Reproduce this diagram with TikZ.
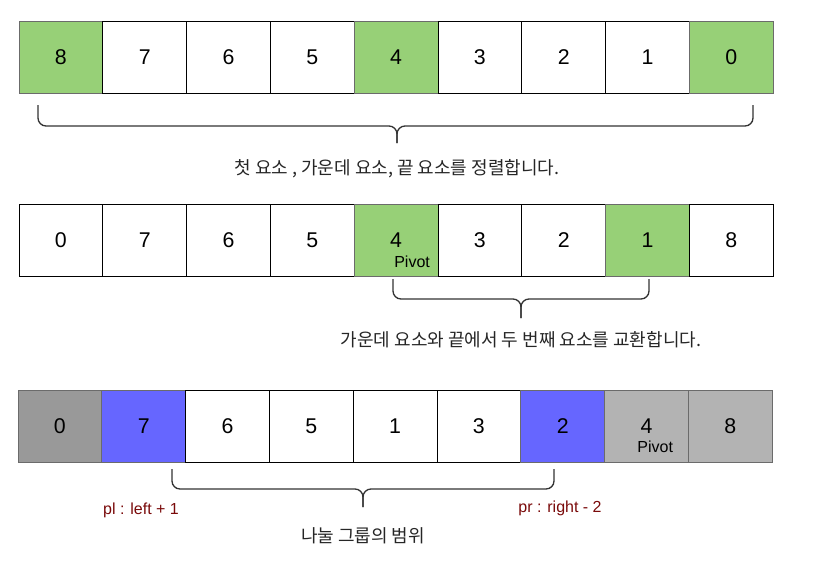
\documentclass[tikz,border=0pt]{standalone}
\usepackage{fontspec}
\setmainfont{Liberation Sans}
\newfontfamily\krfont{Noto Sans CJK KR}
\usepackage{tikz}
\usetikzlibrary{positioning}

\definecolor{cellgreen}{HTML}{97D077}
\definecolor{cellblue}{HTML}{6666FF}
\definecolor{celldark}{HTML}{999999}
\definecolor{celllight}{HTML}{B3B3B3}
\definecolor{cellline}{HTML}{6B6B6B}
\definecolor{bracegray}{HTML}{333333}
\definecolor{idxred}{HTML}{7A0A0A}

\tikzset{
  cell/.style={draw=black, line width=0.75pt, minimum width=62.85pt, minimum height=54pt,
    inner sep=0pt, font=\fontsize{16}{19}\selectfont},
  memo/.style={inner sep=0pt, font=\krfont\fontsize{13.5}{16}\selectfont, text=black!85},
  idx/.style={inner sep=0pt, font=\fontsize{12}{14}\selectfont, text=idxred},
  pivtag/.style={inner sep=0pt, font=\fontsize{12}{14}\selectfont},
  brace/.style={draw=bracegray, line width=1pt, rounded corners=6pt}
}

\begin{document}
\begin{tikzpicture}[x=0.75pt,y=-0.75pt]
  \useasboundingbox (0,0) rectangle (817,572); % 画像全体の大きさ
  \fill[white] (0,0) rectangle (817,572); % 白い背景
  \foreach \v/\c/\e [count=\i] in {8/cellgreen/cellline,7/white/black,6/white/black,5/white/black,4/cellgreen/cellline,3/white/black,2/white/black,1/white/black,0/cellgreen/cellline}
    \node[cell,fill=\c,draw=\e] (r1c\i) at ({19+83.8*\i-41.9},57) {\v}; % 1段目の配列
  \draw[brace] (38,105) |- (397,126) -- (397,143); % 1段目の括弧（左半分）
  \draw[brace] (753,105) |- (397,126) -- (397,143); % 1段目の括弧（右半分）
  \node[memo] (t1) at (397,169) {첫 요소 , 가운데 요소, 끝 요소를 정렬합니다.}; % 1段目の説明

  \foreach \v/\c/\e [count=\i] in {0/white/black,7/white/black,6/white/black,5/white/black,4/cellgreen/cellline,3/white/black,2/white/black,1/cellgreen/cellline,8/white/black}
    \node[cell,fill=\c,draw=\e] (r2c\i) at ({19+83.8*\i-41.9},240) {\v}; % 2段目の配列
  \node[pivtag] (pv2) at ([xshift=12pt,yshift=-16.5pt]r2c5.center) {Pivot}; % 2段目のピボット
  \draw[brace] (393,279) |- (521,299) -- (521,318); % 2段目の括弧（左半分）
  \draw[brace] (649,279) |- (521,299) -- (521,318); % 2段目の括弧（右半分）
  \node[memo] (t2) at (521,340) {가운데 요소와 끝에서 두 번째 요소를 교환합니다.}; % 2段目の説明

  \foreach \v/\c/\e [count=\i] in {0/celldark/cellline,7/cellblue/cellline,6/white/black,5/white/black,1/white/black,3/white/black,2/cellblue/cellline,4/celllight/cellline,8/celllight/cellline}
    \node[cell,fill=\c,draw=\e] (r3c\i) at ({18+83.8*\i-41.9},426) {\v}; % 3段目の配列
  \node[pivtag] (pv3) at ([xshift=6.5pt,yshift=-15.5pt]r3c8.center) {Pivot}; % 3段目のピボット
  \draw[brace] (172,469) |- (363,489) -- (363,507); % 3段目の括弧（左半分）
  \draw[brace] (554,469) |- (363,489) -- (363,507); % 3段目の括弧（右半分）
  \node[idx] (pl) at (141,510) {pl : left + 1}; % 左ポインタ
  \node[idx] (pr) at (560,508) {pr : right - 2}; % 右ポインタ
  \node[memo] (t3) at (363,536) {나눌 그룹의 범위}; % 3段目の説明
\end{tikzpicture}
\end{document}
